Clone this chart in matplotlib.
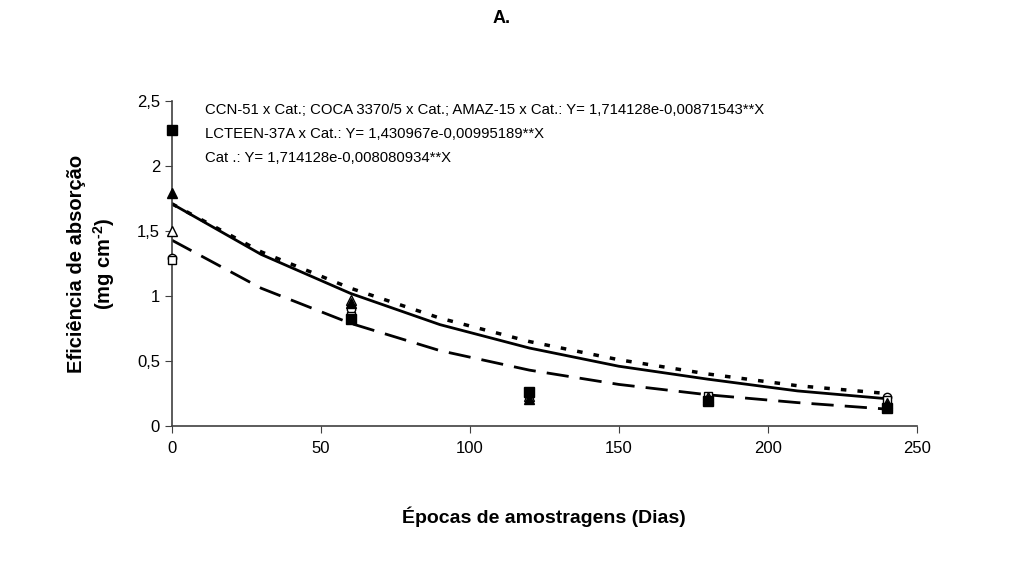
import matplotlib
matplotlib.use('Agg')
import matplotlib.pyplot as plt

plt.rcParams['font.family'] = ['Liberation Sans', 'DejaVu Sans']
plt.rcParams['mathtext.fontset'] = 'custom'
plt.rcParams['mathtext.bf'] = 'Liberation Sans:bold'
plt.rcParams['mathtext.rm'] = 'Liberation Sans'

# épocas de amostragem (dias)
dias = [0, 60, 120, 180, 240]

# pontos observados, por símbolo
pts_quad_cheio = [2.28, 0.82, 0.26, 0.19, 0.14]
pts_tri_cheio  = [1.79, 0.95, 0.21, 0.21, 0.16]
pts_tri_vazio  = [1.50, 0.97, 0.23, 0.22, 0.18]
pts_circ_vazio = [1.29, 0.90, 0.24, 0.22, 0.22]
pts_quad_vazio = [1.28, 0.85, 0.25, 0.23, 0.20]

# curvas ajustadas
dias_curva   = [0, 30, 60, 90, 120, 150, 180, 210, 240]
curva_ccn    = [1.71, 1.32, 1.02, 0.78, 0.60, 0.46, 0.36, 0.27, 0.21]
curva_cat    = [1.71, 1.34, 1.06, 0.83, 0.65, 0.51, 0.40, 0.31, 0.25]
curva_lcteen = [1.43, 1.06, 0.79, 0.58, 0.43, 0.32, 0.24, 0.18, 0.13]

equacoes = ['CCN-51 x Cat.; COCA 3370/5 x Cat.; AMAZ-15 x Cat.: Y= 1,714128e-0,00871543**X',
            'LCTEEN-37A x Cat.: Y= 1,430967e-0,00995189**X',
            'Cat .: Y= 1,714128e-0,008080934**X']
yticks = [0, 0.5, 1, 1.5, 2, 2.5]
ytick_labels = ['0', '0,5', '1', '1,5', '2', '2,5']

fig = plt.figure(figsize=(10.23, 5.68), dpi=100)
ax = fig.add_axes([0.168, 0.25, 0.728, 0.572])

# curvas
ax.plot(dias_curva, curva_ccn, color='black', lw=2, ls='-', zorder=2)
ax.plot(dias_curva, curva_cat, color='black', lw=2.5, ls=(0, (1.6, 3.2)), zorder=2)
ax.plot(dias_curva, curva_lcteen, color='black', lw=2, ls=(0, (8, 4)), zorder=2)

# pontos
kw = dict(ls='none', clip_on=False, mec='black')
ax.plot(dias, pts_circ_vazio, marker='o', ms=6, mfc='white', mew=1, zorder=3, **kw)
ax.plot(dias, pts_quad_vazio, marker='s', ms=6, mfc='white', mew=1, zorder=3, **kw)
ax.plot(dias, pts_tri_vazio, marker='^', ms=7, mfc='white', mew=1, zorder=3, **kw)
ax.plot(dias, pts_tri_cheio, marker='^', ms=7, mfc='black', zorder=4, **kw)
ax.plot(dias, pts_quad_cheio, marker='s', ms=7, mfc='black', zorder=5, **kw)

ax.set_xlim(0, 250)
ax.set_ylim(0, 2.5)
ax.set_xticks([0, 50, 100, 150, 200, 250])
ax.set_yticks(yticks)
ax.set_yticklabels(ytick_labels)
ax.tick_params(labelsize=12, direction='out', length=5, color='#404040')
ax.tick_params(axis='x', pad=6)
for s in ['top', 'right']:
    ax.spines[s].set_visible(False)
for s in ['left', 'bottom']:
    ax.spines[s].set_color('#404040')
    ax.spines[s].set_linewidth(1.2)

for i, txt in enumerate(equacoes):
    ax.text(11, 2.43 - i * 0.185, txt, fontsize=10.7, va='center', ha='left')

ax.set_xlabel('Épocas de amostragens (Dias)', fontsize=14, fontweight='bold', labelpad=36)
ax.set_ylabel('Eficiência de absorção\n(mg cm$^{\\mathbf{\u2010 2}}$)', fontsize=14.5,
              fontweight='bold', labelpad=14, linespacing=1.3)
fig.text(0.49, 0.967, 'A.', fontsize=13, fontweight='bold', ha='center', va='center')

fig.savefig('out.png', dpi=100, facecolor='white')
